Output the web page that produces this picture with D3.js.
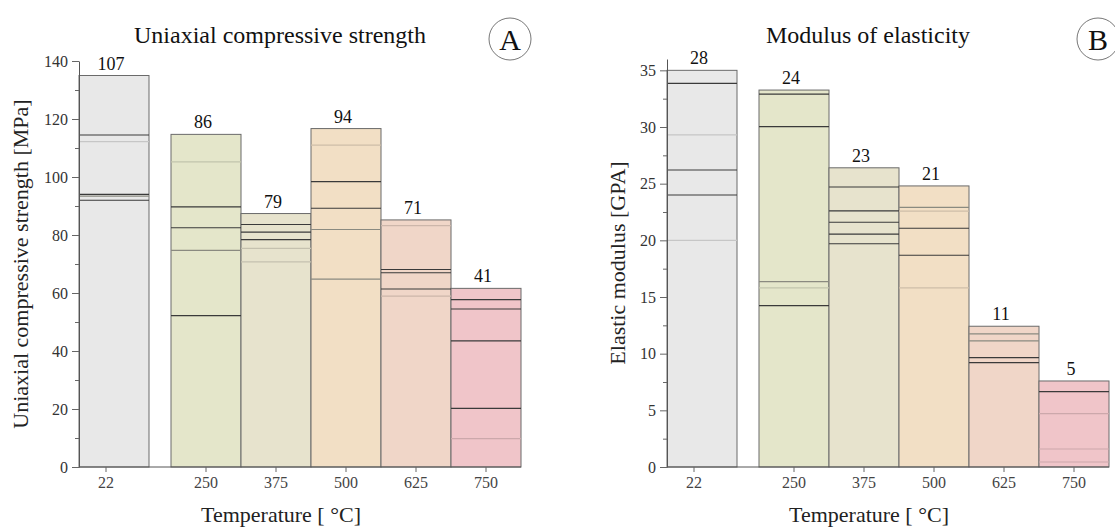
<!DOCTYPE html>
<html>
<head>
<meta charset="utf-8">
<script src="https://cdn.jsdelivr.net/npm/d3@7"></script>
<style>
  body { margin: 0; background: #fff; }
  text { font-family: "Liberation Serif", "Times New Roman", serif; }
</style>
</head>
<body>
<svg id="chart" width="1115" height="529"></svg>
<script>
// temperatures (x categories)
const temps = ["22", "250", "375", "500", "625", "750"];

// uniaxial compressive strength [MPa]
const ucsMean = [107, 86, 79, 94, 71, 41];
const ucsMax = [135, 114.7, 87.4, 116.7, 85.2, 61.6];
const ucsDark = [[114.5, 94, 92], [89.7, 82.5, 52.2], [83.6, 81.0, 78.4], [98.4, 89.2], [68.1, 67.0, 61.4], [57.7, 54.5, 43.5, 20.2]];
const ucsMid = [[93.4], [74.7], [], [81.9, 64.8], [], []];
const ucsLight = [[112.2], [105.2], [75.4, 70.7], [111.0], [83.2, 58.9], [9.8]];
const ucsTicks = [0, 20, 40, 60, 80, 100, 120, 140];

// elastic modulus [GPa]
const emMean = [28, 24, 23, 21, 11, 5];
const emMax = [35.0, 33.26, 26.4, 24.8, 12.42, 7.59];
const emDark = [[33.85, 26.2, 24.0], [32.9, 30.03, 14.24], [24.7, 22.6, 21.6, 20.55, 19.7], [21.07, 18.68], [9.65, 9.21], [6.65]];
const emMid = [[], [16.35], [], [22.9], [11.74, 11.12], []];
const emLight = [[29.3, 20.0], [15.8], [], [22.57, 15.8], [], [4.71, 1.59, 0.44]];
const emTicks = [0, 5, 10, 15, 20, 25, 30, 35];

// bar colours per temperature
const fills = ["#e8e8e8", "#e4e6ca", "#e7e3cd", "#f2dfc5", "#f0d6c8", "#f0c5c9"];

const serif = "Liberation Serif, Times New Roman, serif";
const svg = d3.select("#chart");

function drawPanel(p) {
    const bw = 70, gap = 22;
    const y0 = 467;

    const x = d3.scaleBand().domain(temps).range([p.left, p.left + 6 * bw]);
    const barX = t => x(t) + (t === temps[0] ? 0 : gap);
    const tickX = t => barX(t) + bw / 2 - (t === temps[0] ? 8 : 0);
    const right = barX(temps[5]) + bw;

    const y = d3.scaleLinear().domain([0, p.yMax]).range([y0, p.yTop]);

    const g = svg.append("g");

    // bars
    g.selectAll(".bar")
        .data(temps)
        .enter().append("rect")
        .attr("class", "bar")
        .attr("x", t => barX(t))
        .attr("y", (t, i) => y(p.max[i]))
        .attr("width", bw)
        .attr("height", (t, i) => y0 - y(p.max[i]))
        .attr("fill", (t, i) => fills[i])
        .attr("stroke", "#6a6a6a")
        .attr("stroke-width", 1);

    // lines of single specimens
    function drawLines(groups, colorFn, width) {
        temps.forEach((t, i) => {
            g.selectAll(null)
                .data(groups[i])
                .enter().append("line")
                .attr("x1", barX(t))
                .attr("x2", barX(t) + bw)
                .attr("y1", v => y(v))
                .attr("y2", v => y(v))
                .attr("stroke", colorFn(i))
                .attr("stroke-width", width);
        });
    }
    drawLines(p.light, i => d3.color(fills[i]).darker(0.45), 1.2);
    drawLines(p.mid, () => "#8a8a80", 1.2);
    drawLines(p.dark, () => "#3a3a3a", 1.1);

    // mean labels
    g.selectAll(".lbl")
        .data(temps)
        .enter().append("text")
        .attr("x", t => barX(t) + bw / 2 - 3)
        .attr("y", (t, i) => y(p.max[i]) - 6)
        .attr("text-anchor", "middle")
        .style("font-size", "18px")
        .style("fill", "#111")
        .text((t, i) => p.mean[i]);

    // y axis (major + minor ticks)
    const minorStep = (p.ticks[1] - p.ticks[0]) / 2;
    const minor = d3.range(minorStep, p.yMax, minorStep * 2);
    g.append("g")
        .attr("transform", `translate(${p.left},0)`)
        .call(d3.axisLeft(y).tickValues(minor).tickSize(4).tickSizeOuter(0).tickFormat(""))
        .call(a => a.select(".domain").remove())
        .selectAll("line").attr("stroke", "#666");
    const ya = g.append("g")
        .attr("transform", `translate(${p.left},0)`)
        .attr("font-family", serif)
        .call(d3.axisLeft(y).tickValues(p.ticks).tickSize(7).tickSizeOuter(0).tickPadding(4));
    ya.attr("font-family", serif).attr("font-size", 16);
    ya.select(".domain").attr("stroke", "#555");
    ya.selectAll("line").attr("stroke", "#666");
    ya.selectAll("text").style("fill", "#333");

    // x axis
    g.append("line")
        .attr("x1", p.left).attr("x2", right)
        .attr("y1", y0).attr("y2", y0)
        .attr("stroke", "#555");
    g.selectAll(".xt")
        .data(temps)
        .enter().append("line")
        .attr("x1", t => tickX(t)).attr("x2", t => tickX(t))
        .attr("y1", y0).attr("y2", y0 + 5)
        .attr("stroke", "#666");
    g.selectAll(".xl")
        .data(temps)
        .enter().append("text")
        .attr("x", t => tickX(t))
        .attr("y", y0 + 21)
        .attr("text-anchor", "middle")
        .style("font-size", "16px")
        .style("fill", "#444")
        .text(t => t);

    const mid = (p.left + right) / 2 - 20;

    // axis titles
    g.append("text")
        .attr("x", mid + 1)
        .attr("y", 522)
        .attr("text-anchor", "middle")
        .style("font-size", "22px")
        .style("fill", "#222")
        .text("Temperature [ °C]");
    g.append("text")
        .attr("transform", `translate(${p.yLabelX},${(y0 + p.yTop) / 2}) rotate(-90)`)
        .attr("text-anchor", "middle")
        .style("font-size", "22px")
        .style("fill", "#222")
        .text(p.yLabel);

    // panel title
    g.append("text")
        .attr("x", mid)
        .attr("y", 43)
        .attr("text-anchor", "middle")
        .style("font-size", "24px")
        .style("fill", "#111")
        .text(p.title);

    // panel letter in circle
    const cx = right - 11, cy = 39;
    g.append("circle")
        .attr("cx", cx).attr("cy", cy).attr("r", 21)
        .attr("fill", "none")
        .attr("stroke", "#777")
        .attr("stroke-width", 1);
    g.append("text")
        .attr("x", cx).attr("y", cy + 11)
        .attr("text-anchor", "middle")
        .style("font-size", "30px")
        .style("fill", "#111")
        .text(p.letter);
}

drawPanel({
    left: 79, yMax: 140, yTop: 61,
    max: ucsMax, mean: ucsMean, dark: ucsDark, mid: ucsMid, light: ucsLight,
    ticks: ucsTicks, yLabelX: 28,
    yLabel: "Uniaxial compressive strength [MPa]",
    title: "Uniaxial compressive strength", letter: "A"
});

drawPanel({
    left: 667, yMax: 36, yTop: 59,
    max: emMax, mean: emMean, dark: emDark, mid: emMid, light: emLight,
    ticks: emTicks, yLabelX: 625,
    yLabel: "Elastic modulus [GPA]",
    title: "Modulus of elasticity", letter: "B"
});
</script>
</body>
</html>
